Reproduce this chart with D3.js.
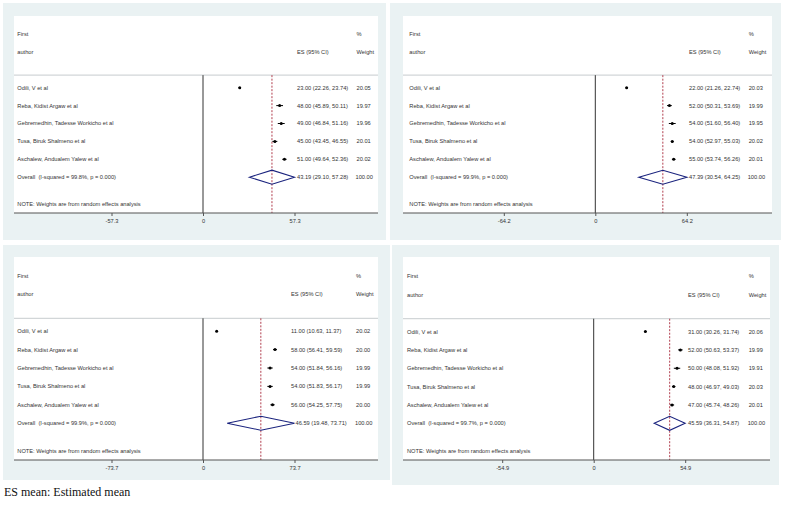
<!DOCTYPE html>
<html>
<head>
<meta charset="utf-8">
<script src="https://cdn.jsdelivr.net/npm/d3@7"></script>
<style>
  body { margin: 0; background: #fff; }
  svg { display: block; }
</style>
</head>
<body>
<div id="chart"></div>
<script>
// study labels (same in all four panels)
const authors = [
  'Odili, V et al',
  'Reba, Kidist Argaw et al',
  'Gebremedhin, Tadesse Workicho et al',
  'Tusa, Biruk Shalmeno et al',
  'Aschalew, Andualem Yalew et al'
]

// one row per panel, one value per study
const estimates = [
  [23, 48, 49, 45, 51],
  [22, 52, 54, 54, 55],
  [11, 58, 54, 54, 56],
  [31, 52, 50, 48, 47]
]
const lower = [
  [22.26, 45.89, 46.84, 43.45, 49.64],
  [21.26, 50.31, 51.60, 52.97, 53.74],
  [10.63, 56.41, 51.84, 51.83, 54.25],
  [30.26, 50.63, 48.08, 46.97, 45.74]
]
const upper = [
  [23.74, 50.11, 51.16, 46.55, 52.36],
  [22.74, 53.69, 56.40, 55.03, 56.26],
  [11.37, 59.59, 56.16, 56.17, 57.75],
  [31.74, 53.37, 51.92, 49.03, 48.26]
]
const weights = [
  [20.05, 19.97, 19.96, 20.01, 20.02],
  [20.03, 19.99, 19.95, 20.02, 20.01],
  [20.02, 20.00, 19.99, 19.99, 20.00],
  [20.06, 19.99, 19.91, 20.03, 20.01]
]

const overallES = [43.19, 47.39, 46.59, 45.59]
const overallLo = [29.10, 30.54, 19.48, 36.31]
const overallHi = [57.28, 64.25, 73.71, 54.87]
const iSquared = ['99.8%', '99.9%', '99.9%', '99.7%']
const tickMax = [57.3, 64.2, 73.7, 54.9]

const footnote = 'ES mean: Estimated mean'

// layout of each panel (pixels)
const panels = [
  { bg: [3, 3, 386, 240], plot: [14, 16, 378, 213], firstY: 34, zero: 203, esX: 297, wX: 356.5, labX: 17.3 },
  { bg: [390, 3, 781, 240], plot: [403, 16, 772, 213], firstY: 34, zero: 595.3, esX: 689, wX: 748.7, labX: 409.3 },
  { bg: [3, 245, 390, 480], plot: [14, 257, 378, 460], firstY: 276, zero: 203, esX: 291, wX: 356, labX: 17.3 },
  { bg: [392, 245, 779, 485], plot: [403, 257, 770, 460], firstY: 276.5, zero: 593.7, esX: 688, wX: 748.7, labX: 407 }
]

const width = 787
const height = 505
const tickSpan = 91.5
const fontSize = 5.7
const f2 = d3.format('.2f')

const svg = d3.select('#chart')
  .append('svg')
  .attr('width', width)
  .attr('height', height)
  .style('font-family', 'Liberation Sans, Arial, sans-serif')

panels.forEach((p, k) => {
  const g = svg.append('g')
  const [bx0, by0, bx1, by1] = p.bg
  const [px0, py0, px1, py1] = p.plot

  g.append('rect')
    .attr('x', bx0).attr('y', by0)
    .attr('width', bx1 - bx0).attr('height', by1 - by0)
    .attr('fill', '#eaf2f3')
  g.append('rect')
    .attr('x', px0).attr('y', py0)
    .attr('width', px1 - px0).attr('height', py1 - py0)
    .attr('fill', '#fff')

  // rows: 0 First, 1 author, 3..7 studies, 8 overall, 9.5 note, 10 axis
  const yRow = d3.scaleLinear().domain([0, 10]).range([p.firstY, py1])
  const xScale = d3.scaleLinear()
    .domain([-tickMax[k], tickMax[k]])
    .range([p.zero - tickSpan, p.zero + tickSpan])

  const headerY = yRow(2.3)

  // header separator
  g.append('line')
    .attr('x1', px0).attr('x2', px1)
    .attr('y1', headerY).attr('y2', headerY)
    .attr('stroke', '#d2d6d8').attr('stroke-width', 1.3)

  // no-effect line
  g.append('line')
    .attr('x1', xScale(0)).attr('x2', xScale(0))
    .attr('y1', headerY).attr('y2', py1)
    .attr('stroke', '#333').attr('stroke-width', 1)

  // overall effect dashed line
  g.append('line')
    .attr('x1', xScale(overallES[k])).attr('x2', xScale(overallES[k]))
    .attr('y1', headerY).attr('y2', py1)
    .attr('stroke', '#a8283a').attr('stroke-width', 0.9)
    .attr('stroke-dasharray', '2,1.5')

  // axis
  const axis = d3.axisBottom(xScale)
    .tickValues([-tickMax[k], 0, tickMax[k]])
    .tickFormat(d => d === 0 ? '0' : (d < 0 ? '-' : '') + Math.abs(d).toFixed(1))
    .tickSize(3)
    .tickPadding(3)
  const ax = g.append('g')
    .attr('transform', `translate(0,${py1})`)
    .call(axis)
  ax.select('.domain').remove()
  ax.append('line')
    .attr('x1', px0).attr('x2', px1)
    .attr('stroke', '#555').attr('stroke-width', 1.2)
  ax.selectAll('.tick line').attr('stroke', '#555')
  ax.selectAll('.tick text')
    .attr('font-size', fontSize)
    .attr('fill', '#333')
    .style('font-family', 'Liberation Sans, Arial, sans-serif')

  const txt = (x, row, s) => g.append('text')
    .attr('x', x).attr('y', yRow(row))
    .attr('dy', '0.35em')
    .attr('font-size', fontSize)
    .attr('fill', '#333')
    .text(s)

  txt(p.labX, 0, 'First')
  txt(p.labX, 1, 'author')
  txt(p.esX, 1, 'ES (95% CI)')
  txt(p.wX, 0, '%')
  txt(p.wX, 1, 'Weight')

  const rows = authors.map((a, i) => ({
    author: a, es: estimates[k][i], lo: lower[k][i], hi: upper[k][i], w: weights[k][i], row: 3 + i
  }))

  rows.forEach(d => {
    txt(p.labX, d.row, d.author)
    txt(p.esX, d.row, `${f2(d.es)} (${f2(d.lo)}, ${f2(d.hi)})`)
    txt(p.wX, d.row, f2(d.w))
  })

  g.selectAll('line.ci')
    .data(rows)
    .join('line')
    .attr('class', 'ci')
    .attr('x1', d => xScale(d.lo)).attr('x2', d => xScale(d.hi))
    .attr('y1', d => yRow(d.row)).attr('y2', d => yRow(d.row))
    .attr('stroke', '#000').attr('stroke-width', 1)

  g.selectAll('circle.pt')
    .data(rows)
    .join('circle')
    .attr('class', 'pt')
    .attr('cx', d => xScale(d.es))
    .attr('cy', d => yRow(d.row))
    .attr('r', 1.5)
    .attr('fill', '#000')

  // overall diamond
  const oy = yRow(8)
  const dh = 7
  g.append('path')
    .attr('d', `M${xScale(overallLo[k])},${oy} L${xScale(overallES[k])},${oy - dh} L${xScale(overallHi[k])},${oy} L${xScale(overallES[k])},${oy + dh} Z`)
    .attr('fill', 'none')
    .attr('stroke', '#1a237e')
    .attr('stroke-width', 1.1)

  txt(p.labX, 8, `Overall  (I-squared = ${iSquared[k]}, p = 0.000)`).attr('xml:space', 'preserve')
  txt(Math.max(p.esX, xScale(overallHi[k]) + 1), 8, `${f2(overallES[k])} (${f2(overallLo[k])}, ${f2(overallHi[k])})`)
  txt(p.wX - 1, 8, '100.00')
  txt(p.labX, 9.5, 'NOTE: Weights are from random effects analysis')
})

svg.append('text')
  .attr('x', 4)
  .attr('y', 496)
  .attr('font-size', 12)
  .attr('font-family', 'Liberation Serif, Times New Roman, serif')
  .attr('fill', '#111')
  .text(footnote)
</script>
</body>
</html>
